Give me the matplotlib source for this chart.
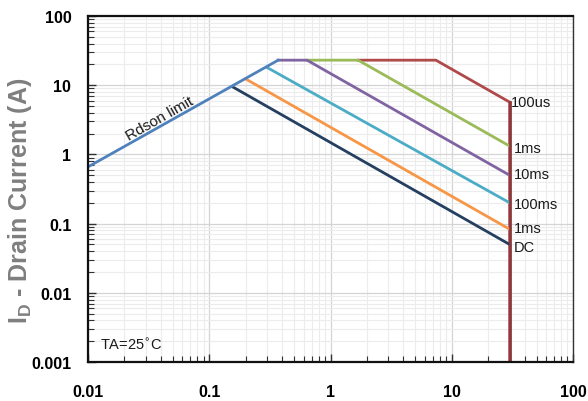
import matplotlib.pyplot as plt
from matplotlib.ticker import LogLocator, NullFormatter, FixedLocator

# Safe operating area
rdson_v = [0.01, 0.37]
rdson_i = [0.66, 23.0]

dc_v = [0.157, 30]
dc_i = [9.4, 0.05]

ms1_low_v = [0.2, 30]
ms1_low_i = [12.3, 0.083]

ms100_v = [0.30, 30]
ms100_i = [18.0, 0.2]

ms10_v = [0.37, 0.64, 30]
ms10_i = [23.0, 23.0, 0.5]

ms1_v = [0.64, 1.69, 30]
ms1_i = [23.0, 23.0, 1.32]

us100_v = [1.69, 7.4, 30, 30]
us100_i = [23.0, 23.0, 5.7, 0.001]

curve_labels = ["100us", "1ms", "10ms", "100ms", "1ms", "DC"]
label_pos = [5.8, 1.25, 0.52, 0.19, 0.085, 0.046]

x_ticks = [0.01, 0.1, 1, 10, 100]
x_tick_labels = ["0.01", "0.1", "1", "10", "100"]
y_ticks = [0.001, 0.01, 0.1, 1, 10, 100]
y_tick_labels = ["0.001", "0.01", "0.1", "1", "10", "100"]


def main():
    plt.rcParams["font.family"] = ["Liberation Sans", "DejaVu Sans"]
    fig = plt.figure(figsize=(5.88, 4.02), dpi=100)
    ax = fig.add_axes([88 / 588, 1 - 363 / 402, 485 / 588, 346 / 402])

    ax.set_xscale("log")
    ax.set_yscale("log")
    ax.set_xlim(0.01, 100)
    ax.set_ylim(0.001, 100)

    ax.grid(True, which="major", color="#d4d4d4", linewidth=0.9)
    ax.grid(True, which="minor", color="#ececec", linewidth=0.8)
    ax.set_axisbelow(True)

    lw = 2.0
    ax.plot(us100_v, us100_i, color="#b0494a", lw=lw)
    ax.plot(ms1_v, ms1_i, color="#9bbb59", lw=lw)
    ax.plot(ms10_v, ms10_i, color="#8064a2", lw=lw)
    ax.plot(ms100_v, ms100_i, color="#4bacc6", lw=lw)
    ax.plot(ms1_low_v, ms1_low_i, color="#f79646", lw=lw)
    ax.plot(dc_v, dc_i, color="#243f60", lw=lw)
    ax.plot(rdson_v, rdson_i, color="#4f81bd", lw=lw)
    ax.plot([30, 30], [5.7, 0.001], color="#8b3a3c", lw=lw)

    for name, y in zip(curve_labels, label_pos):
        xv = 31 if name == "100us" else 32.5
        ax.text(xv, y, name, fontsize=10.5, va="center", ha="left", color="#1a1a1a")

    ax.text(0.039, 3.4, "Rdson limit", fontsize=11, rotation=29.5,
            ha="center", va="center", color="#1a1a1a")
    ax.text(0.0125, 0.0018, "TA=25$^{\\circ}$C", fontsize=10.5, ha="left",
            va="center", color="#1a1a1a")

    ax.xaxis.set_major_locator(FixedLocator(x_ticks))
    ax.set_xticklabels(x_tick_labels)
    ax.yaxis.set_major_locator(FixedLocator(y_ticks))
    ax.set_yticklabels(y_tick_labels)
    ax.xaxis.set_minor_locator(LogLocator(base=10, subs=range(2, 10), numticks=20))
    ax.yaxis.set_minor_locator(LogLocator(base=10, subs=range(2, 10), numticks=20))
    ax.xaxis.set_minor_formatter(NullFormatter())
    ax.yaxis.set_minor_formatter(NullFormatter())

    ax.tick_params(which="both", direction="in", color="#333333")
    ax.tick_params(which="major", length=6, width=1, pad=12)
    ax.tick_params(which="minor", length=4, width=0.8)
    ax.tick_params(axis="x", which="major", pad=16)
    for lbl in ax.get_xticklabels() + ax.get_yticklabels():
        lbl.set_fontweight("bold")
        lbl.set_fontsize(11.5)

    for side in ["left", "bottom", "top"]:
        ax.spines[side].set_linewidth(1.6)
        ax.spines[side].set_color("#111111")
    ax.spines["right"].set_linewidth(1.0)
    ax.spines["right"].set_color("#333333")

    ax.set_ylabel("I$_\\mathregular{D}$ - Drain Current (A)", fontsize=18,
                  fontweight="bold", color="#7f7f7f")
    ax.yaxis.set_label_coords(-0.111, 0.47)

    fig.savefig("out.png", dpi=100)


if __name__ == "__main__":
    main()
